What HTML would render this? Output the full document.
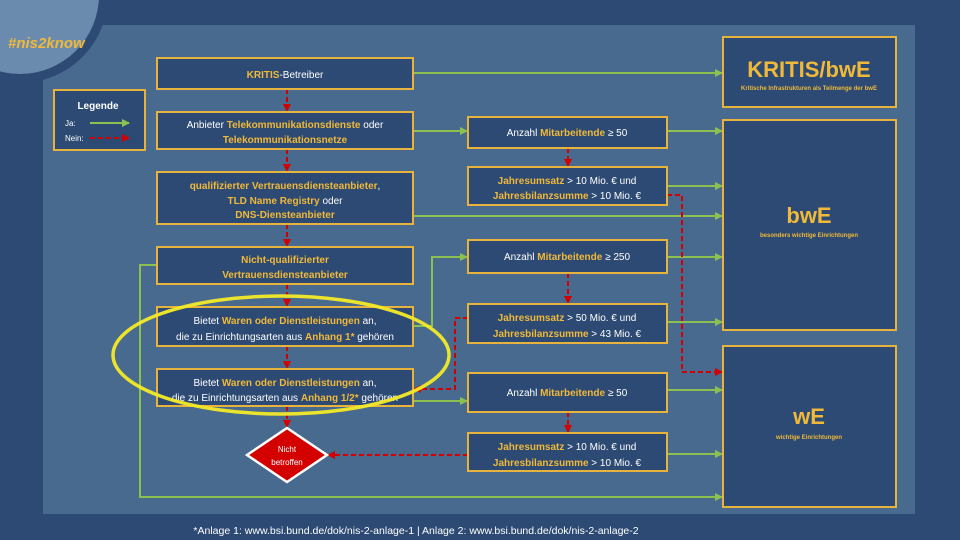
<!DOCTYPE html>
<html><head><meta charset="utf-8"><style>
html,body{margin:0;padding:0;width:960px;height:540px;overflow:hidden;background:#2c4a73}
svg{display:block}
text{font-family:"Liberation Sans",sans-serif;fill:#fff}
.y{fill:#f0b93a;font-weight:bold}
.b{fill:#2c4a73;stroke:#e8b33c;stroke-width:2}
.g{stroke:#8cc152;stroke-width:2;fill:none}
.r{stroke:#d40000;stroke-width:2;fill:none;stroke-dasharray:5 3}
</style></head><body>
<svg width="960" height="540" viewBox="0 0 960 540">
<defs>
<marker id="ag" markerWidth="8" markerHeight="8" refX="7" refY="4" orient="auto" markerUnits="userSpaceOnUse"><path d="M0,0 L8,4 L0,8z" fill="#8cc152"/></marker>
<marker id="ar" markerWidth="8" markerHeight="8" refX="7" refY="4" orient="auto" markerUnits="userSpaceOnUse"><path d="M0,0 L8,4 L0,8z" fill="#d40000"/></marker>
</defs>
<rect x="43" y="25" width="872" height="489" fill="#476a8e"/>
<circle cx="20" cy="-5" r="88" fill="#2c4a73"/>
<circle cx="20" cy="-5" r="79" fill="#6a8bad"/>
<text x="8" y="48" font-size="15" font-style="italic" font-weight="bold" style="fill:#f0b93a">#nis2know</text>

<rect class="b" x="54" y="90" width="91" height="60"/>
<text x="98" y="109" font-size="10" font-weight="bold" text-anchor="middle">Legende</text>
<text x="65" y="126" font-size="8">Ja:</text>
<text x="65" y="141" font-size="8">Nein:</text>
<line class="g" x1="90" y1="123" x2="129" y2="123" marker-end="url(#ag)"/>
<line class="r" x1="90" y1="138" x2="129" y2="138" marker-end="url(#ar)"/>

<line class="g" x1="413" y1="73" x2="722" y2="73" marker-end="url(#ag)"/>
<line class="g" x1="413" y1="131" x2="467" y2="131" marker-end="url(#ag)"/>
<line class="g" x1="667" y1="131" x2="722" y2="131" marker-end="url(#ag)"/>
<line class="g" x1="667" y1="186" x2="722" y2="186" marker-end="url(#ag)"/>
<line class="g" x1="413" y1="216" x2="722" y2="216" marker-end="url(#ag)"/>
<line class="g" x1="667" y1="257" x2="722" y2="257" marker-end="url(#ag)"/>
<line class="g" x1="667" y1="322" x2="722" y2="322" marker-end="url(#ag)"/>
<line class="g" x1="667" y1="390" x2="722" y2="390" marker-end="url(#ag)"/>
<line class="g" x1="667" y1="454" x2="722" y2="454" marker-end="url(#ag)"/>
<polyline class="g" points="157,265 140,265 140,497 722,497" marker-end="url(#ag)"/>
<polyline class="g" points="413,326 432,326 432,257 467,257" marker-end="url(#ag)"/>
<line class="g" x1="413" y1="401" x2="467" y2="401" marker-end="url(#ag)"/>

<line class="r" x1="287" y1="89" x2="287" y2="111" marker-end="url(#ar)"/>
<line class="r" x1="287" y1="149" x2="287" y2="171" marker-end="url(#ar)"/>
<line class="r" x1="287" y1="224" x2="287" y2="246" marker-end="url(#ar)"/>
<line class="r" x1="287" y1="284" x2="287" y2="306" marker-end="url(#ar)"/>
<line class="r" x1="287" y1="346" x2="287" y2="368" marker-end="url(#ar)"/>
<line class="r" x1="287" y1="406" x2="287" y2="427" marker-end="url(#ar)"/>
<line class="r" x1="568" y1="148" x2="568" y2="166" marker-end="url(#ar)"/>
<line class="r" x1="568" y1="273" x2="568" y2="303" marker-end="url(#ar)"/>
<line class="r" x1="568" y1="412" x2="568" y2="432" marker-end="url(#ar)"/>
<polyline class="r" points="667,195 682,195 682,372 722,372" marker-end="url(#ar)"/>
<polyline class="r" points="468,318 455,318 455,389 414,389" marker-end="url(#ar)"/>
<line class="r" x1="468" y1="455" x2="328" y2="455" marker-end="url(#ar)"/>

<rect class="b" x="157" y="58" width="256" height="31"/>
<text x="285" y="78" font-size="10" text-anchor="middle"><tspan class="y">KRITIS</tspan>-Betreiber</text>
<rect class="b" x="157" y="112" width="256" height="37"/>
<text x="285" y="128" font-size="10" text-anchor="middle">Anbieter <tspan class="y">Telekommunikationsdienste</tspan> oder</text>
<text x="285" y="143" font-size="10" text-anchor="middle" class="y">Telekommunikationsnetze</text>
<rect class="b" x="157" y="172" width="256" height="52"/>
<text x="285" y="189" font-size="10" text-anchor="middle"><tspan class="y">qualifizierter Vertrauensdiensteanbieter</tspan>,</text>
<text x="285" y="204" font-size="10" text-anchor="middle"><tspan class="y">TLD Name Registry</tspan> oder</text>
<text x="285" y="218" font-size="10" text-anchor="middle" class="y">DNS-Diensteanbieter</text>
<rect class="b" x="157" y="247" width="256" height="37"/>
<text x="285" y="263" font-size="10" text-anchor="middle" class="y">Nicht-qualifizierter</text>
<text x="285" y="278" font-size="10" text-anchor="middle" class="y">Vertrauensdiensteanbieter</text>
<rect class="b" x="157" y="307" width="256" height="39"/>
<text x="285" y="324" font-size="10" text-anchor="middle">Bietet <tspan class="y">Waren oder Dienstleistungen</tspan> an,</text>
<text x="285" y="340" font-size="10" text-anchor="middle">die zu Einrichtungsarten aus <tspan class="y">Anhang 1*</tspan> gehören</text>
<rect class="b" x="157" y="369" width="256" height="37"/>
<text x="285" y="386" font-size="10" text-anchor="middle">Bietet <tspan class="y">Waren oder Dienstleistungen</tspan> an,</text>
<text x="285" y="401" font-size="10" text-anchor="middle">die zu Einrichtungsarten aus <tspan class="y">Anhang 1/2*</tspan> gehören</text>

<polygon points="287,428 327,455 287,482 247,455" fill="#d40000" stroke="#fff" stroke-width="2.5"/>
<text x="287" y="452" font-size="8" text-anchor="middle">Nicht</text>
<text x="287" y="465" font-size="8" text-anchor="middle">betroffen</text>

<rect class="b" x="468" y="117" width="199" height="31"/>
<text x="567" y="136" font-size="10" text-anchor="middle">Anzahl <tspan class="y">Mitarbeitende</tspan> ≥ 50</text>
<rect class="b" x="468" y="167" width="199" height="38"/>
<text x="567" y="184" font-size="10" text-anchor="middle"><tspan class="y">Jahresumsatz</tspan> &gt; 10 Mio. € und</text>
<text x="567" y="199" font-size="10" text-anchor="middle"><tspan class="y">Jahresbilanzsumme</tspan> &gt; 10 Mio. €</text>
<rect class="b" x="468" y="240" width="199" height="33"/>
<text x="567" y="260" font-size="10" text-anchor="middle">Anzahl <tspan class="y">Mitarbeitende</tspan> ≥ 250</text>
<rect class="b" x="468" y="304" width="199" height="39"/>
<text x="567" y="321" font-size="10" text-anchor="middle"><tspan class="y">Jahresumsatz</tspan> &gt; 50 Mio. € und</text>
<text x="567" y="337" font-size="10" text-anchor="middle"><tspan class="y">Jahresbilanzsumme</tspan> &gt; 43 Mio. €</text>
<rect class="b" x="468" y="373" width="199" height="39"/>
<text x="567" y="396" font-size="10" text-anchor="middle">Anzahl <tspan class="y">Mitarbeitende</tspan> ≥ 50</text>
<rect class="b" x="468" y="433" width="199" height="38"/>
<text x="567" y="450" font-size="10" text-anchor="middle"><tspan class="y">Jahresumsatz</tspan> &gt; 10 Mio. € und</text>
<text x="567" y="466" font-size="10" text-anchor="middle"><tspan class="y">Jahresbilanzsumme</tspan> &gt; 10 Mio. €</text>

<rect class="b" x="723" y="37" width="173" height="70"/>
<text x="809" y="77" font-size="22" text-anchor="middle" class="y">KRITIS/bwE</text>
<text x="809" y="90" font-size="6" text-anchor="middle" class="y">Kritische Infrastrukturen als Teilmenge der bwE</text>
<rect class="b" x="723" y="120" width="173" height="210"/>
<text x="809" y="223" font-size="22" text-anchor="middle" class="y">bwE</text>
<text x="809" y="237" font-size="6" text-anchor="middle" class="y">besonders wichtige Einrichtungen</text>
<rect class="b" x="723" y="346" width="173" height="161"/>
<text x="809" y="424" font-size="22" text-anchor="middle" class="y">wE</text>
<text x="809" y="439" font-size="6" text-anchor="middle" class="y">wichtige Einrichtungen</text>

<ellipse cx="281" cy="355" rx="168" ry="59" fill="none" stroke="#f5ea28" stroke-width="3.5" opacity="0.95"/>

<text x="416" y="534" font-size="10.5" text-anchor="middle">*Anlage 1: www.bsi.bund.de/dok/nis-2-anlage-1 | Anlage 2: www.bsi.bund.de/dok/nis-2-anlage-2</text>
</svg>
</body></html>
